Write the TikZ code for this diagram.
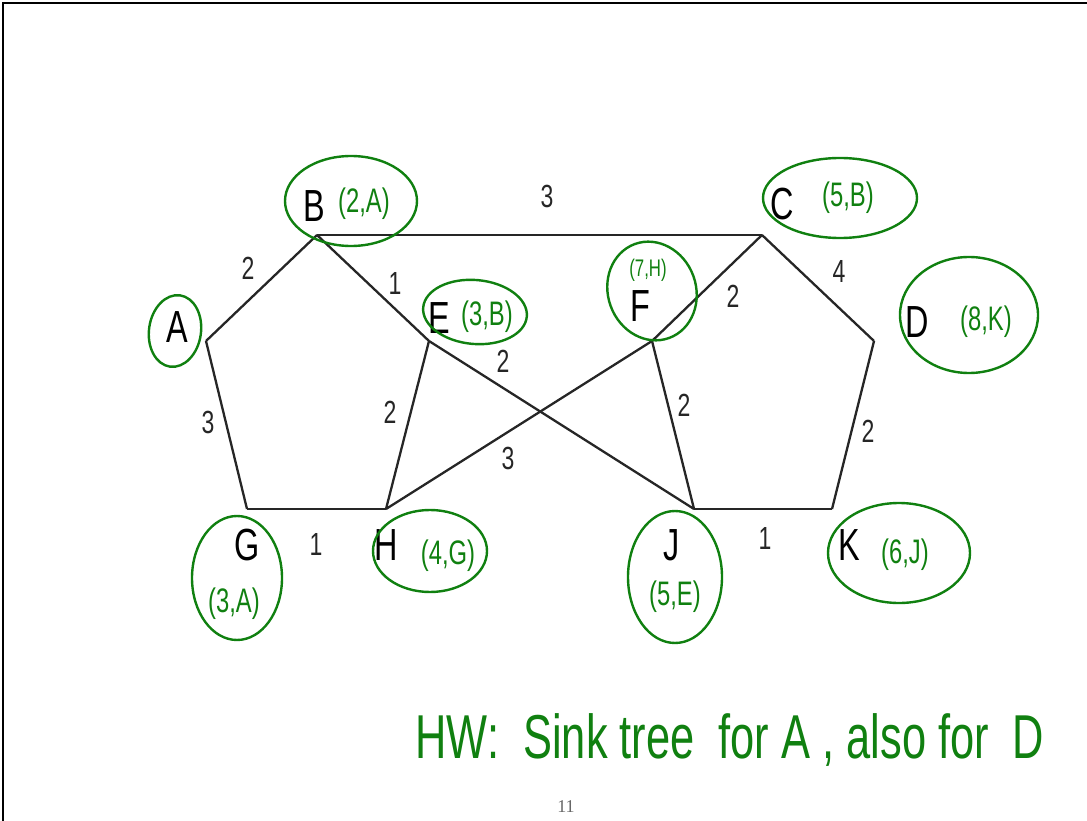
\documentclass[tikz,border=0pt]{standalone}
\usepackage{fontspec}
\setmainfont{Liberation Sans}
\newfontfamily\labfont{Liberation Sans}[FakeStretch=0.72]
\newfontfamily\handfont{Liberation Sans}[FakeStretch=0.7]
\newfontfamily\pagefont{Liberation Serif}
\definecolor{ink}{RGB}{16,128,16}
\begin{document}
\begin{tikzpicture}[x=1pt,y=-1pt,
  edge/.style={draw=black!85, line width=2.3pt},
  vlabel/.style={font=\labfont\fontsize{45}{45}\selectfont, inner sep=0pt, text=black},
  wlabel/.style={font=\labfont\fontsize{32}{32}\selectfont, inner sep=0pt, text=black!85},
  note/.style={font=\handfont\fontsize{34}{34}\selectfont, text=ink, inner sep=0pt},
  ring/.style={draw=ink, line width=2.4pt}]
\useasboundingbox (0,0) rectangle (1087,821);
\draw[line width=1.5pt] (1087,3) -| (3,821);

% vertices
\coordinate (A) at (206,341);
\coordinate (B) at (317,235);
\coordinate (C) at (762,235);
\coordinate (D) at (874,341);
\coordinate (E) at (429,341);
\coordinate (F) at (652,341);
\coordinate (G) at (247,509);
\coordinate (H) at (386,509);
\coordinate (J) at (694,509);
\coordinate (K) at (832,509);

% edges
\draw[edge] (A) -- (B);
\draw[edge] (B) -- (C);
\draw[edge] (C) -- (D);
\draw[edge] (A) -- (G);
\draw[edge] (G) -- (H);
\draw[edge] (H) -- (E);
\draw[edge] (B) -- (E);
\draw[edge] (E) -- (J);
\draw[edge] (C) -- (F);
\draw[edge] (F) -- (H);
\draw[edge] (F) -- (J);
\draw[edge] (J) -- (K);
\draw[edge] (K) -- (D);

% vertex labels
\node[vlabel] (lA) at (177,327) {A};
\node[vlabel] (lB) at (314,206) {B};
\node[vlabel] (lC) at (782,204) {C};
\node[vlabel] (lD) at (917,322) {D};
\node[vlabel] (lE) at (439,318) {E};
\node[vlabel] (lF) at (640,306) {F};
\node[vlabel] (lG) at (247,545) {G};
\node[vlabel] (lH) at (386,545) {H};
\node[vlabel] (lJ) at (672,545) {J};
\node[vlabel] (lK) at (849,545) {K};

% weights
\node[wlabel] (wAB) at (248,268) {2};
\node[wlabel] (wBC) at (547,196) {3};
\node[wlabel] (wCD) at (839,271) {4};
\node[wlabel] (wBE) at (395,283) {1};
\node[wlabel] (wEJ) at (503,361) {2};
\node[wlabel] (wCF) at (733,296) {2};
\node[wlabel] (wAG) at (208,422) {3};
\node[wlabel] (wEH) at (390,412) {2};
\node[wlabel] (wFH) at (508,458) {3};
\node[wlabel] (wFJ) at (684,405) {2};
\node[wlabel] (wDK) at (868,431) {2};
\node[wlabel] (wGH) at (316,544) {1};
\node[wlabel] (wJK) at (765,538) {1};

% green annotations
\draw[ring, rotate around={-8:(175,331)}] (175,331) ellipse [x radius=26, y radius=36];
\draw[ring] (351,201) ellipse [x radius=66, y radius=45];
\draw[ring] (840,198) ellipse [x radius=77, y radius=40];
\draw[ring] (969,315) ellipse [x radius=69, y radius=58];
\draw[ring, rotate around={-5:(475,312)}] (475,312) ellipse [x radius=52, y radius=32];
\draw[ring, rotate around={20:(652,291)}] (652,291) ellipse [x radius=44, y radius=50];
\draw[ring] (237,578) ellipse [x radius=45, y radius=62];
\draw[ring] (430,551) ellipse [x radius=57, y radius=41];
\draw[ring] (675,577) ellipse [x radius=47, y radius=66];
\draw[ring] (899,553) ellipse [x radius=71, y radius=50];

\node[note] (nB) at (364,204) {(2,A)};
\node[note] (nC) at (848,198) {(5,B)};
\node[note] (nE) at (487,317) {(3,B)};
\node[note, font=\handfont\fontsize{24}{24}\selectfont] (nF) at (648,270) {(7,H)};
\node[note] (nD) at (986,322) {(8,K)};
\node[note] (nG) at (234,604) {(3,A)};
\node[note] (nH) at (448,556) {(4,G)};
\node[note] (nJ) at (675,597) {(5,E)};
\node[note] (nK) at (905,555) {(6,J)};

\node[note, font=\handfont\fontsize{62}{62}\selectfont] (hw) at (730,740) {HW:\ \ Sink tree\ \ for A\ , also for\ \ D};

\node[font=\pagefont\fontsize{18}{18}\selectfont, text=black!60, inner sep=0pt] (page) at (566,807) {11};
\end{tikzpicture}
\end{document}
